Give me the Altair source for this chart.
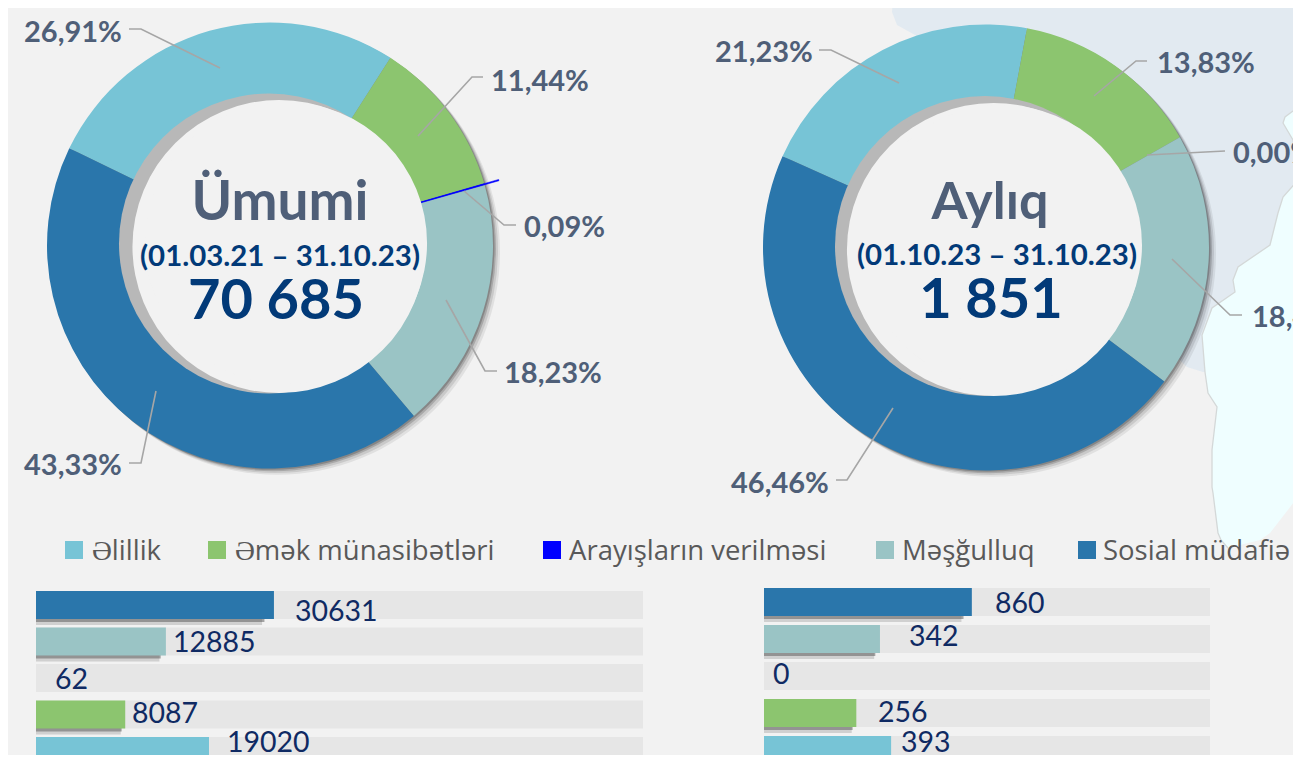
import math
import altair as alt
import pandas as pd

# ---- chart values ----
categories = ["Əlillik", "Əmək münasibətləri", "Arayışların verilməsi", "Məşğulluq", "Sosial müdafiə"]
colors = ["#77C4D6", "#8CC56F", "#0000FF", "#9AC4C5", "#2A76AB"]
total_values = [19020, 8087, 62, 12885, 30631]
month_values = [393, 256, 0, 342, 860]
slice_order = [5, 1, 2, 3, 4]   # clockwise, starting after the Əlillik slice

total_pct = ["26,91%", "11,44%", "0,09%", "18,23%", "43,33%"]
month_pct = ["21,23%", "13,83%", "0,00%", "18,48%", "46,46%"]

# bar fill share of each track, as drawn in the picture (not proportional to the labels)
row_order = ["Sosial müdafiə", "Məşğulluq", "Arayışların verilməsi", "Əmək münasibətləri", "Əlillik"]
total_fill = [39.2, 21.4, 0.0, 14.7, 28.5]
month_fill = [46.6, 26.0, 0.0, 20.7, 28.5]
total_bar_labels = ["30631", "12885", "62", "8087", "19020"]
month_bar_labels = ["860", "342", "0", "256", "393"]

# ---- annotation anchors, in picture pixels ----
total_pct_x = [24, 491, 524, 504, 24]
total_pct_y = [32.5, 81.5, 227.5, 373.5, 465.5]
month_pct_x = [715, 1157, 1233, 1252, 731]
month_pct_y = [52.5, 63.5, 153.5, 317.5, 483.5]
total_leaders = [
    [(129, 29), (141, 29), (220, 68)],
    [(483, 77), (472, 77), (418, 136)],
    [(516, 225), (504, 225), (464, 191)],
    [(497, 371), (485, 371), (446, 300)],
    [(129, 463), (141, 463), (156, 391)],
]
month_leaders = [
    [(819, 50), (831, 50), (899, 83)],
    [(1147, 61), (1136, 61), (1094, 96)],
    [(1225, 151), (1147, 155)],
    [(1242, 315), (1230, 315), (1172, 259)],
    [(836, 480), (847, 480), (893, 408)],
]
total_bar_label_x = [295, 173, 55, 132, 227]
total_bar_label_y = [612, 643, 680, 714, 743]
month_bar_label_x = [995, 909, 773, 878, 901]
month_bar_label_y = [604, 637, 675, 713, 743]
legend_box_x = [74, 217, 552, 885, 1087]
legend_text_x = [92, 235, 569, 902, 1103]

# background map outlines (y, left x, right x)
land_y = [0, 12, 25, 35, 60, 100, 200, 300, 360, 367, 372]
land_left = [893, 892, 897, 915, 960, 1000, 1060, 1100, 1180, 1187, 1203]
sea_y = [105, 117, 123, 140, 167, 180, 197, 213, 245, 267, 280, 292, 308, 335, 372, 393, 407, 450, 487, 493, 533, 540, 548]
sea_left = [1301, 1285, 1283, 1293, 1297, 1298, 1283, 1278, 1270, 1238, 1233, 1235, 1212, 1202, 1205, 1208, 1217, 1212, 1212, 1213, 1218, 1221, 1228]
sea_right = [1301] * 19 + [1301, 1270, 1260, 1228]

W, H = 1285, 747
FONT = "Lato"
px_x = alt.Scale(domain=[8, 8 + W], range=[0, W], nice=False, zero=False)
px_y = alt.Scale(domain=[8, 8 + H], range=[0, H], nice=False, zero=False)
X = alt.X("x:Q", scale=px_x, axis=None)
Y = alt.Y("y:Q", scale=px_y, axis=None)


def texts(labels, xs, ys, size, color, weight="bold", font=FONT, align="left"):
    df = pd.DataFrame({"t": labels, "x": xs, "y": ys})
    return alt.Chart(df).mark_text(
        font=font, fontSize=size, fontWeight=weight, color=color, align=align, baseline="middle"
    ).encode(x=X, y=Y, text="t:N")


def leaders(paths):
    rows = [{"p": i, "k": k, "x": pt[0], "y": pt[1]} for i, path in enumerate(paths) for k, pt in enumerate(path)]
    return alt.Chart(pd.DataFrame(rows)).mark_line(color="#A6A6A6", strokeWidth=1.6).encode(
        x=X, y=Y, detail="p:N", order="k:Q"
    )


def disc(cx, cy, r, color, opacity=1.0):
    return alt.Chart(pd.DataFrame({"a": [0]})).mark_arc(
        outerRadius=r, innerRadius=0, theta=0, theta2=2 * math.pi, fill=color, opacity=opacity
    ).encode(x=alt.value(cx - 8), y=alt.value(cy - 8))


def donut(values, cx, cy, start_deg):
    df = pd.DataFrame({"c": categories, "v": values, "o": slice_order})
    a = math.radians(start_deg)
    theta = alt.Theta("v:Q", stack=True,
                      scale=alt.Scale(domain=[0, sum(values)], range=[a, a + 2 * math.pi]))
    color = alt.Color("c:N", scale=alt.Scale(domain=categories, range=colors), legend=None)
    enc = dict(theta=theta, color=color, order=alt.Order("o:Q"),
               x=alt.value(cx - 8), y=alt.value(cy - 8))
    ring = alt.Chart(df).mark_arc(outerRadius=223, innerRadius=135).encode(**enc)
    return ring, df, enc


def spike(df, enc):
    return alt.Chart(df).mark_arc(outerRadius=238, innerRadius=135, stroke="#0000FF", strokeWidth=0.5).encode(
        **enc,
        opacity=alt.condition("datum.c === 'Arayışların verilməsi' && datum.v > 0", alt.value(1), alt.value(0)),
    )


def bars(fill, top, step, x0, x1):
    df = pd.DataFrame({"c": row_order, "v": fill, "t": [100] * 5})
    inner = (step - 28) / step
    length = step * 5 - (step - 28)
    color = alt.Color("c:N", scale=alt.Scale(domain=categories, range=colors), legend=None)

    def yband(shift):
        return alt.Y("c:N", axis=None, scale=alt.Scale(
            type="band", domain=row_order, range=[top - 8 + shift, top - 8 + shift + length],
            paddingInner=inner, paddingOuter=0))

    def xscale(end):
        return alt.Scale(domain=[0, 100], range=[x0 - 8, end - 8], nice=False)

    span = x1 - x0
    track = alt.Chart(df).mark_bar(color="#E6E6E6", cornerRadius=0).encode(
        x=alt.X("t:Q", scale=xscale(x1), axis=None), y=yband(0))
    shadow2 = alt.Chart(df[df.v > 1]).mark_bar(color="#555555", opacity=0.22).encode(
        x=alt.X("v:Q", scale=xscale(x0 + span * 0.95), axis=None), y=yband(6))
    shadow1 = alt.Chart(df[df.v > 1]).mark_bar(color="#555555", opacity=0.5).encode(
        x=alt.X("v:Q", scale=xscale(x0 + span * 0.96), axis=None), y=yband(3))
    fillbar = alt.Chart(df[df.v > 0]).mark_bar().encode(
        x=alt.X("v:Q", scale=xscale(x1), axis=None), y=yband(0), color=color)
    return [track, shadow2, shadow1, fillbar]


# background map
land = alt.Chart(pd.DataFrame({"y": land_y, "x": land_left, "x2": [1301] * len(land_y)})).mark_area(
    orient="horizontal", color="#E2EAF1", opacity=1).encode(x=X, x2="x2:Q", y=Y)
sea_df = pd.DataFrame({"y": sea_y, "x": sea_left, "x2": sea_right})
sea = alt.Chart(sea_df).mark_area(orient="horizontal", color="#EFFEFF", opacity=1).encode(x=X, x2="x2:Q", y=Y)
sea_edge = alt.Chart(sea_df).mark_line(color="#D4D8D8", strokeWidth=1.3).encode(x=X, y=Y, order="y:Q")

# donuts
C1 = (270, 245.5)
C2 = (986, 247.5)
shadows = []
for cx, cy in (C1, C2):
    for d, op in ((7, 0.07), (5, 0.10), (3, 0.16), (1.5, 0.2)):
        shadows.append(disc(cx + d, cy + d * 0.9, 223, "#000000", op))

ring1, df1, enc1 = donut(total_values, *C1, 32.7)
ring2, df2, enc2 = donut(month_values, *C2, 10.6)

centers = [
    disc(269, 243.5, 150, "#B8B8B8"),
    disc(279, 246.5, 146.5, "#F2F2F2"),
    disc(286, 243, 141, "#F2F2F2"),
    disc(985, 246, 150, "#B8B8B8"),
    disc(993.5, 249.5, 146.5, "#F2F2F2"),
    disc(1002, 245, 140, "#F2F2F2"),
]

# legend
legend_df = pd.DataFrame({"c": categories, "x": legend_box_x, "y": [550] * 5})
legend_marks = alt.Chart(legend_df).mark_square(size=324, opacity=1).encode(
    x=X, y=Y, color=alt.Color("c:N", scale=alt.Scale(domain=categories, range=colors), legend=None))
legend_text = texts(categories, legend_text_x, [552] * 5, 27.5, "#595959", weight="normal", font="Open Sans")

layers = [land, sea, sea_edge] + shadows + [ring1, ring2, spike(df1, enc1)] + centers + [
    leaders(total_leaders), leaders(month_leaders),
    texts(total_pct, total_pct_x, total_pct_y, 29, "#4F5F78"),
    texts(month_pct, month_pct_x, month_pct_y, 29, "#4F5F78"),
    texts(["Ümumi"], [280], [203], 55, "#4F5F78", align="center"),
    texts(["Aylıq"], [990], [203], 52, "#4F5F78", align="center"),
    texts(["(01.03.21 – 31.10.23)"], [280], [257], 29.4, "#023A78", align="center"),
    texts(["(01.10.23 – 31.10.23)"], [997], [256], 29.4, "#023A78", align="center"),
    texts(["70 685"], [276], [302], 56, "#023A78", align="center"),
    texts(["1 851"], [991], [301], 56, "#023A78", align="center"),
    legend_marks, legend_text,
] + bars(total_fill, 591, 36.5, 36, 643) + bars(month_fill, 588, 37, 764, 1210) + [
    texts(total_bar_labels, total_bar_label_x, total_bar_label_y, 28.5, "#0F2A63", weight="normal"),
    texts(month_bar_labels, month_bar_label_x, month_bar_label_y, 28.5, "#0F2A63", weight="normal"),
]

chart = alt.layer(*layers).resolve_scale(
    x="independent", y="independent", color="independent", theta="independent", opacity="independent"
).properties(
    width=W, height=H, background="#F2F2F2", padding=0,
    autosize=alt.AutoSizeParams(type="none"),
).configure_view(stroke=None)

chart.save("out.html", embed_options={"renderer": "svg", "actions": False})
